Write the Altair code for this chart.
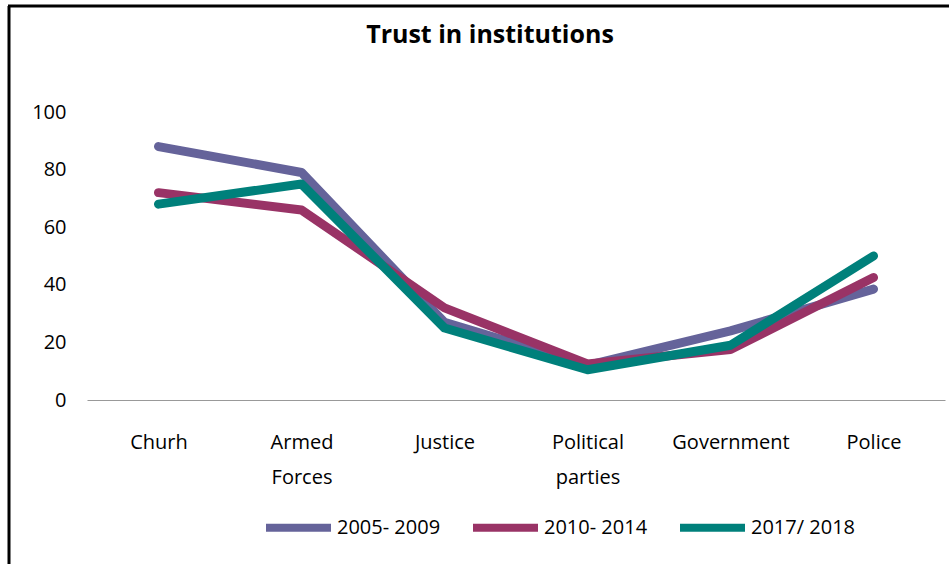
import altair as alt
import pandas as pd

categories = ["Churh", "Armed Forces", "Justice", "Political parties", "Government", "Police"]
series_names = ["2005- 2009", "2010- 2014", "2017/ 2018"]
s2005_2009 = [88, 79, 27, 12, 24, 38.5]
s2010_2014 = [72, 66, 32, 12.5, 17.5, 42.5]
s2017_2018 = [68, 75, 25, 10.5, 19, 50]
colors = ["#65639A", "#993366", "#00807B"]
y_ticks = [0, 20, 40, 60, 80, 100]

rows = []
for name, vals in zip(series_names, [s2005_2009, s2010_2014, s2017_2018]):
    for i, (c, v) in enumerate(zip(categories, vals)):
        rows.append({"Institution": c, "Period": name, "Value": v, "order": i})
df = pd.DataFrame(rows)

FONT = "Open Sans"

lines = alt.Chart(df).mark_line(strokeWidth=9, strokeCap="round", strokeJoin="round").encode(
    x=alt.X("Institution:N", sort=categories, scale=alt.Scale(paddingInner=0, paddingOuter=0),
            axis=alt.Axis(title=None, labelExpr="split(datum.label, ' ')", labelAngle=0,
                          labelFontSize=20, labelLineHeight=35, labelPadding=42, ticks=False,
                          domainColor="#999999", domainWidth=1, labelColor="#000000",
                          labelFont=FONT, labelBaseline="middle")),
    y=alt.Y("Value:Q", scale=alt.Scale(domain=[0, 100], nice=False),
            axis=alt.Axis(title=None, values=y_ticks, grid=False, domain=False, ticks=False,
                          labelFontSize=20, labelPadding=21, labelColor="#000000", labelFont=FONT)),
    color=alt.Color("Period:N", sort=series_names,
                    scale=alt.Scale(domain=series_names, range=colors),
                    legend=alt.Legend(title=None, orient="none", legendX=175, legendY=379,
                                      direction="horizontal", columns=3, symbolType="stroke",
                                      symbolSize=4225, symbolStrokeWidth=8, labelFontSize=20,
                                      labelFont=FONT, labelColor="#000000", labelOffset=2,
                                      columnPadding=16)),
    order="order:Q",
)

frame_left = alt.Chart(pd.DataFrame({"k": [0]})).mark_rule(color="#000000", strokeWidth=3).encode(
    x=alt.value(-78), y=alt.value(-106), y2=alt.value(460))
frame_top = alt.Chart(pd.DataFrame({"k": [0]})).mark_rule(color="#000000", strokeWidth=3).encode(
    x=alt.value(-79), x2=alt.value(870), y=alt.value(-106))

chart = alt.layer(lines, frame_left, frame_top).properties(
    width=858, height=288,
    background="white",
    title=alt.TitleParams("Trust in institutions", fontSize=25, font=FONT, fontWeight="bold",
                          anchor="middle", dx=-26, offset=-43, color="#000000"),
    autosize=alt.AutoSizeParams(type="none"),
    padding={"left": 87, "top": 112, "right": 4, "bottom": 164},
).configure_view(strokeWidth=0, stroke="transparent")

chart.save("out.html", embed_options={"renderer": "svg", "actions": False})
